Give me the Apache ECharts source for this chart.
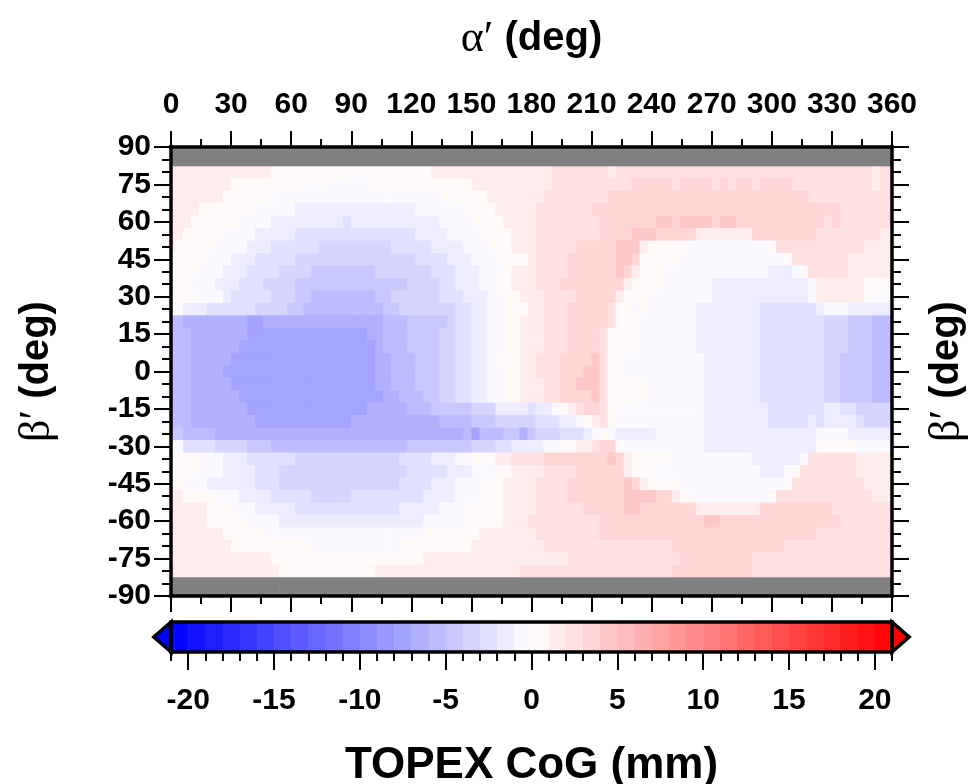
<!DOCTYPE html>
<html>
<head>
<meta charset="utf-8">
<title>TOPEX CoG</title>
<script src="https://cdn.jsdelivr.net/npm/echarts@6.0.0/dist/echarts.min.js"></script>
<style>
html, body { margin: 0; padding: 0; background: #fff; }
#chart { width: 974px; height: 784px; }
</style>
</head>
<body>
<div id="chart"></div>
<script>
// grid spacing of the map (deg)
var alphaStep = 4;
var betaStep = 5;

// beta' rows that carry values, top to bottom
var betaRows = [80, 75, 70, 65, 60, 55, 50, 45, 40, 35, 30, 25, 20, 15, 10, 5, 0,
	-5, -10, -15, -20, -25, -30, -35, -40, -45, -50, -55, -60, -65, -70, -75, -80];
// rows with no data (drawn grey)
var nanRows = [90, 85, -85, -90];

// colour bin -> CoG value in mm (bin centre)
var levelValue = {
	'4': 4.5, '3': 3.5, '2': 2.5, '1': 1.5, '0': 0.5,
	a: -0.5, b: -1.5, c: -2.5, d: -3.5, e: -4.5, f: -5.5, g: -6.5, h: -7.5
};

// each row: runs of "level:last alpha' of the run"
var cogRows = [
	"1:48 0:128 1:188 2:216 1:220 2:348 1:352 2:360",
	"1:28 0:68 a:72 0:76 a:96 0:148 1:188 2:230 3:250 2:254 3:270 2:274 3:278 2:282 3:290 2:294 3:310 2:350 1:354 2:360",
	"1:24 0:48 a:132 0:156 1:184 2:218 3:318 2:360",
	"1:12 0:40 a:60 b:120 a:144 0:160 1:180 2:210 3:334 2:360",
	"1:8 0:32 a:48 b:84 c:88 b:132 a:148 0:164 1:180 2:214 3:242 4:250 3:254 4:270 3:274 4:282 3:326 2:330 3:334 2:360",
	"1:4 0:24 a:40 b:60 c:120 b:136 a:152 0:170 1:180 2:212 3:230 4:242 3:262 1:290 3:322 2:354 1:360",
	"1:0 0:20 a:36 b:48 c:72 d:108 c:128 b:144 a:156 0:168 1:180 2:202 3:222 4:234 1:238 0:258 a:298 0:302 2:346 1:360",
	"0:16 a:28 b:40 c:60 d:120 c:136 b:148 a:160 0:176 1:180 2:198 3:222 4:230 3:234 0:254 a:306 0:310 2:338 1:360",
	"0:12 a:24 b:36 c:52 d:68 e:100 d:128 c:140 b:152 a:164 0:168 1:180 2:196 3:222 4:226 3:230 1:234 0:246 a:298 b:310 a:314 0:318 2:338 1:360",
	"0:8 a:20 b:32 c:44 d:60 e:116 d:132 c:140 b:152 a:160 0:168 1:180 2:192 3:224 1:228 0:244 a:270 b:318 a:322 1:346 0:360",
	"0:12 a:24 b:28 c:48 d:60 e:68 f:100 e:108 d:132 c:144 b:156 a:164 0:172 1:184 2:200 3:220 1:224 0:236 a:270 b:318 a:322 1:346 0:350 a:360",
	"a:4 b:16 c:40 d:56 e:64 f:104 e:112 d:140 c:148 b:156 a:164 0:176 1:184 2:196 3:216 2:220 0:228 a:232 0:236 a:262 b:294 c:322 b:326 a:338 b:360",
	"f:4 g:36 h:44 g:104 f:116 e:136 d:140 c:148 b:156 a:164 0:172 1:184 2:196 3:216 2:220 0:232 a:262 b:294 c:326 d:338 e:350 f:360",
	"f:8 g:36 h:96 g:104 f:116 e:132 d:140 c:148 b:156 a:164 0:172 1:184 2:196 3:212 2:216 0:232 a:262 b:294 c:326 d:338 e:350 f:360",
	"f:8 g:32 h:100 g:104 f:116 e:132 d:140 c:148 b:156 a:164 0:172 1:184 2:196 3:212 2:216 0:232 a:262 b:294 c:326 d:338 e:350 f:360",
	"f:8 g:28 h:100 g:108 f:120 e:132 d:140 c:148 b:156 a:160 0:172 1:180 2:192 3:208 4:212 2:216 0:224 a:266 b:294 c:326 d:334 e:350 f:360",
	"f:8 g:24 h:100 g:108 f:120 e:132 d:140 c:148 b:156 a:164 0:172 1:180 2:192 3:204 4:212 2:216 0:224 a:266 b:294 c:326 d:334 e:350 f:360",
	"f:8 g:28 h:100 g:108 f:120 e:132 d:140 c:148 b:156 a:164 0:172 1:184 2:192 3:200 4:212 2:216 0:236 a:266 b:294 c:326 d:334 e:350 f:360",
	"f:8 g:32 h:104 g:112 f:124 e:132 d:140 c:148 b:156 a:164 0:172 1:184 2:192 3:208 4:212 2:216 0:236 a:266 b:294 c:326 d:334 e:350 f:360",
	"f:8 g:36 h:96 g:116 f:128 e:148 d:160 b:176 c:180 b:188 a:192 0:196 1:200 2:204 3:212 2:216 0:220 a:266 b:298 c:326 b:334 c:342 d:360",
	"f:8 g:40 h:88 g:132 f:148 e:160 d:180 c:192 b:200 a:204 0:208 1:212 2:216 0:220 a:266 b:298 c:318 b:322 c:326 b:342 c:346 d:360",
	"e:4 f:20 g:144 f:148 h:152 f:164 e:172 g:176 e:180 d:192 c:204 b:208 a:212 0:216 a:220 b:240 a:266 b:322 a:338 b:360",
	"a:4 c:20 d:36 e:48 f:116 e:148 d:160 c:168 b:184 a:192 0:200 1:208 2:212 3:220 0:224 a:266 b:322 0:342 a:360",
	"0:12 a:24 b:36 c:60 d:112 c:128 b:140 a:148 0:160 1:168 2:184 3:216 4:220 3:224 1:228 0:250 a:290 b:314 a:318 2:342 1:360",
	"0:12 a:24 b:40 c:52 d:116 c:136 b:148 a:160 0:170 1:186 2:202 3:226 1:230 0:242 a:294 b:306 a:310 0:314 2:342 1:360",
	"0:4 a:16 b:40 c:52 d:112 c:128 b:140 a:152 0:164 1:180 2:198 3:226 4:230 3:234 1:238 0:254 a:306 0:310 2:346 1:360",
	"1:4 0:20 a:32 b:48 c:68 d:88 c:124 b:140 a:152 0:164 1:180 2:198 3:226 4:242 3:250 1:254 0:262 a:298 0:302 2:350 1:360",
	"1:16 0:28 a:40 b:60 c:112 b:132 a:144 0:164 1:180 2:206 3:226 4:234 3:262 1:294 3:330 2:360",
	"1:16 0:36 a:52 b:124 a:144 0:164 1:178 2:214 3:266 4:274 3:334 2:360",
	"1:24 0:44 a:124 0:152 1:180 2:214 3:322 2:360",
	"1:28 0:68 a:112 0:148 1:186 2:250 3:306 2:360",
	"1:48 0:124 1:196 2:254 3:290 2:360",
	"2:0 1:52 0:100 1:172 2:250 3:290 2:360"
];

// colour scale and its labels
var cbarMin = -21;
var cbarMax = 21;
var cbarTicks = [-20, -15, -10, -5, 0, 5, 10, 15, 20];
var alphaTicks = 30;
var betaTicks = 15;

var FONT = 'Liberation Sans';

function decodeRow(row) {
	var runs = row.split(' ').map(function (t) {
		var p = t.split(':');
		return { v: levelValue[p[0]], end: Number(p[1]) };
	});
	var out = [];
	for (var a = 0; a <= 360; a += alphaStep) {
		for (var i = 0; i < runs.length; i++) {
			if (a <= runs[i].end) { out.push(runs[i].v); break; }
		}
	}
	return out;
}

// blue - white - red, 21 mm at the ends
function cogColor(v) {
	var c = Math.round(255 * (1 - Math.min(Math.abs(v), 21) / 21));
	return v < 0 ? 'rgb(' + c + ',' + c + ',255)' : 'rgb(255,' + c + ',' + c + ')';
}

var heatData = [];
betaRows.forEach(function (b, r) {
	decodeRow(cogRows[r]).forEach(function (v, i) {
		heatData.push([i * alphaStep, b, v, 0]);
	});
});
nanRows.forEach(function (b) {
	for (var a = 0; a <= 360; a += alphaStep) heatData.push([a, b, 0, 1]);
});

var cbarBins = [];
for (var k = cbarMin; k < cbarMax; k++) cbarBins.push([k + 0.5, 0.5]);

function renderCell(params, api) {
	var a = api.value(0), b = api.value(1);
	var p0 = api.coord([Math.max(a - alphaStep / 2, 0), Math.min(b + betaStep / 2, 90)]);
	var p1 = api.coord([Math.min(a + alphaStep / 2, 360), Math.max(b - betaStep / 2, -90)]);
	return {
		type: 'rect',
		shape: { x: p0[0], y: p0[1], width: p1[0] - p0[0] + 0.6, height: p1[1] - p0[1] + 0.6 },
		style: { fill: api.value(3) ? '#808080' : cogColor(api.value(2)) }
	};
}

function renderBin(params, api) {
	var m = api.value(0);
	var p0 = api.coord([m - 0.5, 1]);
	var p1 = api.coord([m + 0.5, 0]);
	return {
		type: 'rect',
		shape: { x: p0[0], y: p0[1], width: p1[0] - p0[0] + 0.6, height: p1[1] - p0[1] },
		style: { fill: cogColor(m) }
	};
}

function renderFrame(params, api) {
	var tl = api.coord([cbarMin, 1]);
	var br = api.coord([cbarMax, 0]);
	var mid = (tl[1] + br[1]) / 2;
	var unit = api.size([1, 0])[0];
	var line = { stroke: '#000', lineWidth: 3.5, lineJoin: 'miter' };
	return {
		type: 'group',
		children: [
			{ type: 'polygon', shape: { points: [[tl[0], tl[1]], [tl[0] - unit, mid], [tl[0], br[1]]] },
				style: Object.assign({ fill: cogColor(cbarMin) }, line) },
			{ type: 'polygon', shape: { points: [[br[0], tl[1]], [br[0] + unit, mid], [br[0], br[1]]] },
				style: Object.assign({ fill: cogColor(cbarMax) }, line) },
			{ type: 'rect', shape: { x: tl[0], y: tl[1], width: br[0] - tl[0], height: br[1] - tl[1] },
				style: Object.assign({ fill: 'none' }, line) }
		]
	};
}

var tickFont = { fontFamily: FONT, fontWeight: 'bold', fontSize: 30, color: '#000' };
var frameLine = { show: true, onZero: false, lineStyle: { color: '#000', width: 3.5, cap: 'square' } };
var nameRich = {
	g: { fontFamily: 'Liberation Serif', fontSize: 44, fontWeight: 'normal', color: '#000' },
	b: { fontFamily: FONT, fontSize: 40, fontWeight: 'bold', color: '#000' }
};

function alphaAxis(pos, labels) {
	return {
		type: 'value', gridIndex: 0, position: pos, min: 0, max: 360, interval: alphaTicks, z: 10,
		axisLine: frameLine,
		axisTick: { show: true, length: 16, lineStyle: { color: '#000', width: 2 } },
		minorTick: { show: true, splitNumber: 2, length: 8, lineStyle: { color: '#000', width: 2 } },
		axisLabel: Object.assign({ show: labels, margin: 27, showMinLabel: true, showMaxLabel: true }, tickFont),
		splitLine: { show: false },
		name: labels ? '{g|α′} {b|(deg)}' : '',
		nameLocation: 'middle', nameGap: 86,
		nameTextStyle: { fontSize: 40, rich: nameRich }
	};
}

function betaAxis(pos, labels, gap) {
	return {
		type: 'value', gridIndex: 0, position: pos, min: -90, max: 90, interval: betaTicks, z: 10,
		axisLine: frameLine,
		axisTick: { show: true, length: 17, lineStyle: { color: '#000', width: 2 } },
		minorTick: { show: true, splitNumber: 3, length: 9, lineStyle: { color: '#000', width: 2 } },
		axisLabel: Object.assign({ show: labels, margin: 20 }, tickFont),
		splitLine: { show: false },
		name: '{g|β′} {b|(deg)}',
		nameLocation: 'middle', nameRotate: 90, nameGap: gap,
		nameTextStyle: { fontSize: 40, rich: nameRich }
	};
}

var chart = echarts.init(document.getElementById('chart'), null, { renderer: 'canvas' });

var option = {
	animation: false,
	backgroundColor: '#fff',
	grid: [
		{ left: 171, top: 147, width: 721, height: 449, containLabel: false, outerBoundsMode: 'none' },
		{ left: 171, top: 622, width: 721, height: 30, containLabel: false, outerBoundsMode: 'none' }
	],
	xAxis: [
		alphaAxis('top', true),
		alphaAxis('bottom', false),
		{
			type: 'value', gridIndex: 1, position: 'bottom', min: cbarMin, max: cbarMax, interval: 1,
			axisLine: { show: false, onZero: false },
			axisTick: { show: true, length: 9, lineStyle: { color: '#000', width: 2 } },
			axisLabel: { show: false },
			splitLine: { show: false }
		},
		{
			type: 'value', gridIndex: 1, position: 'bottom', min: cbarMin, max: cbarMax,
			axisLine: { show: false, onZero: false },
			axisTick: { show: true, length: 18, customValues: cbarTicks, lineStyle: { color: '#000', width: 2 } },
			axisLabel: Object.assign({ margin: 34, customValues: cbarTicks }, tickFont),
			splitLine: { show: false },
			name: 'TOPEX CoG (mm)',
			nameLocation: 'middle', nameGap: 92,
			nameTextStyle: { fontFamily: FONT, fontWeight: 'bold', fontSize: 44, color: '#000' }
		}
	],
	yAxis: [
		betaAxis('left', true, 112),
		betaAxis('right', false, 33),
		{ type: 'value', gridIndex: 1, min: 0, max: 1, show: false }
	],
	series: [
		{
			type: 'custom', name: 'CoG', xAxisIndex: 0, yAxisIndex: 0,
			renderItem: renderCell, clip: true, z: 1,
			encode: { x: 0, y: 1 },
			data: heatData
		},
		{
			type: 'custom', name: 'scale', xAxisIndex: 2, yAxisIndex: 2,
			renderItem: renderBin, clip: false, z: 1,
			encode: { x: 0, y: 1 },
			data: cbarBins
		},
		{
			type: 'custom', name: 'frame', xAxisIndex: 2, yAxisIndex: 2,
			renderItem: renderFrame, clip: false, z: 3,
			encode: { x: 0, y: 1 },
			data: [[0, 0.5]]
		}
	]
};

chart.setOption(option);
</script>
</body>
</html>
